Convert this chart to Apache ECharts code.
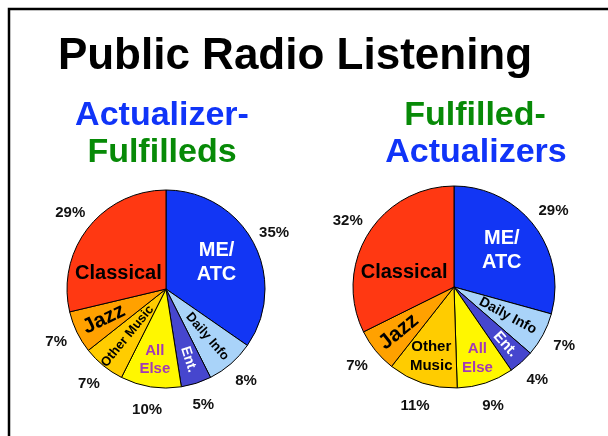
<!DOCTYPE html>
<html>
<head>
<meta charset="utf-8">
<script src="https://cdn.jsdelivr.net/npm/echarts@6/dist/echarts.min.js"></script>
<style>
  html, body { margin: 0; padding: 0; background: #fff; }
  #chart { width: 608px; height: 436px; }
</style>
</head>
<body>
<div id="chart"></div>
<script>
// categories, clockwise from 12 o'clock
var categories = ['ME/ATC', 'Daily Info', 'Ent.', 'All Else', 'Other Music', 'Jazz', 'Classical'];
var leftLabels = ['ME/\nATC', 'Daily Info', 'Ent.', 'All\nElse', 'Other Music', 'Jazz', 'Classical'];
var rightLabels = ['ME/\nATC', 'Daily Info', 'Ent.', 'All\nElse', 'Other\nMusic', 'Jazz', 'Classical'];
var actualizerFulfilleds = [35, 8, 5, 10, 7, 7, 29];
var fulfilledActualizers = [29, 7, 4, 9, 11, 7, 32];

var sliceColors = ['#1236F4', '#A9D3F9', '#4646CE', '#FFF700', '#FFCC00', '#FFA100', '#FF3812'];
var FONT = '"Liberation Sans", Arial, Helvetica, sans-serif';

// label look per slice: [color, size, rotate, distance from centre]
var leftStyle = [
  ['#fff', 20, 0, 57], ['#000', 13, 'radial', 63], ['#fff', 14, 'radial', 74],
  ['#A23AB6', 15, 0, 72], ['#000', 13, 'radial', 61], ['#000', 21, 'radial', 69],
  ['#000', 20, 0, 53]
];
var rightStyle = [
  ['#fff', 20, 0, 60], ['#000', 14, 'radial', 61], ['#fff', 15, 'radial', 77],
  ['#A23AB6', 15, 0, 75], ['#000', 15, 0, 73], ['#000', 21, 'radial', 71],
  ['#000', 20, 0, 54]
];
var classicalShift = [[-6, 17], [-4, 14]];

function makePie(values, labels, styles, center, r, pctDist, shift) {
  var out = [];
  // the visible slices
  out.push({
    type: 'pie', center: center, radius: r, startAngle: 90, clockwise: true,
    silent: true, animation: false,
    label: { show: false }, labelLine: { show: false },
    data: values.map(function (v, i) {
      return { name: categories[i], value: v,
        itemStyle: { color: sliceColors[i], borderColor: '#000', borderWidth: 1 } };
    })
  });
  // one transparent ring per name label, so each sits at its own distance
  styles.forEach(function (st, k) {
    out.push({
      type: 'pie', center: center, radius: [0, 2 * (st[3] - 3)], startAngle: 90,
      silent: true, animation: false, avoidLabelOverlap: false,
      labelLayout: { hideOverlap: false }, minShowLabelAngle: 0,
      labelLine: { show: false },
      data: values.map(function (v, i) {
        var lab = { show: i === k, position: 'inside', formatter: labels[i],
          color: st[0], fontSize: st[1], fontWeight: 'bold', fontFamily: FONT,
          rotate: st[2], lineHeight: st[1] * 1.22 };
        if (k === 6) lab.offset = shift;
        return { name: categories[i], value: v,
          itemStyle: { color: 'rgba(0,0,0,0)', borderWidth: 0 }, label: lab };
      })
    });
  });
  // percentages round the outside
  out.push({
    type: 'pie', center: center, radius: [0, 2 * (pctDist - 3)], startAngle: 90,
    silent: true, animation: false, avoidLabelOverlap: false,
    labelLayout: { hideOverlap: false },
    labelLine: { show: false },
    label: { show: true, position: 'inside', formatter: '{c}%', color: '#111',
      fontSize: 15, fontWeight: 'bold', fontFamily: FONT },
    itemStyle: { color: 'rgba(0,0,0,0)', borderWidth: 0 },
    data: values.map(function (v, i) { return { name: categories[i], value: v }; })
  });
  return out;
}

var series = [].concat(
  makePie(actualizerFulfilleds, leftLabels, leftStyle, [166, 289], 99, 122, classicalShift[0]),
  makePie(fulfilledActualizers, rightLabels, rightStyle, [454, 287], 101, 125, classicalShift[1])
);

function txt(s, x, y, size, color) {
  return { type: 'text', x: x, y: y, silent: true,
    style: { text: s, fill: color, font: 'bold ' + size + 'px ' + FONT,
      align: 'center', verticalAlign: 'middle' } };
}

var chart = echarts.init(document.getElementById('chart'));
chart.setOption({
  backgroundColor: '#fff',
  animation: false,
  graphic: [
    { type: 'rect', silent: true, shape: { x: 9, y: 9, width: 700, height: 500 },
      style: { fill: 'none', stroke: '#000', lineWidth: 2.5 } },
    txt('Public Radio Listening', 295, 57, 44, '#000'),
    txt('Actualizer-', 162, 116, 34, '#1034F8'),
    txt('Fulfilleds', 162, 153, 34, '#078A07'),
    txt('Fulfilled-', 475, 116, 34, '#078A07'),
    txt('Actualizers', 476, 153, 34, '#1034F8')
  ],
  series: series
});
</script>
</body>
</html>
